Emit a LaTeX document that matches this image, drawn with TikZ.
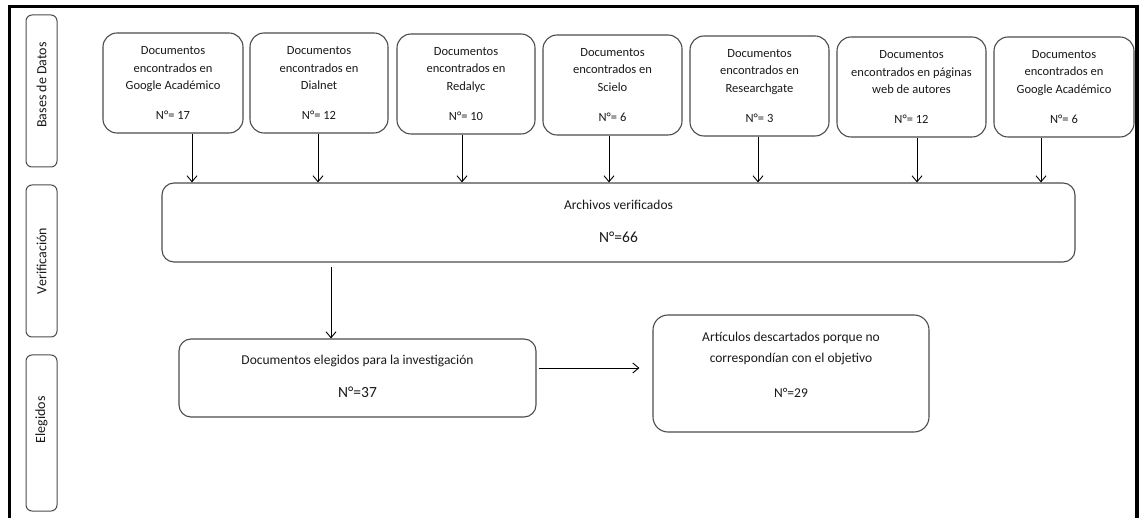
\documentclass[tikz,border=0pt]{standalone}
\usepackage{fontspec}
\setmainfont{Carlito}
\usetikzlibrary{arrows.meta,calc}
\begin{document}
\begin{tikzpicture}[x=1pt,y=-1pt,
  box/.style={draw=black!70, line width=1.1pt, rounded corners=14pt, align=center, inner sep=0pt,
              font=\fontsize{12.5}{17.5}\selectfont, text=black!90},
  bigtxt/.style={align=center, inner sep=0pt, font=\fontsize{13.5}{21}\selectfont, text=black!90},
  lane/.style={draw=black!70, line width=1pt, rounded corners=6pt, inner sep=0pt},
  lanetxt/.style={rotate=90, inner sep=0pt, font=\fontsize{14}{16}\selectfont, text=black!90},
  arr/.style={-{Straight Barb[length=6pt,width=10pt]}, line width=0.9pt},
  frame/.style={line width=3.5pt}
]
\useasboundingbox (0,0) rectangle (1141,518);
% outer frame (open at the bottom)
\coordinate (fbl) at (9.5,518);
\coordinate (ftl) at (9.5,6.5);
\coordinate (ftr) at (1137,6.5);
\coordinate (fbr) at (1137,518);
\draw[frame] (fbl) -- (ftl) -- (ftr) -- (fbr);

% lanes
\node[lane, minimum width=31pt, minimum height=152pt] (l1) at (41.5,91) {};
\node[lane, minimum width=31pt, minimum height=152pt] (l2) at (41.5,261) {};
\node[lane, minimum width=31pt, minimum height=156pt] (l3) at (41.5,433) {};
\node[lanetxt] (t1) at ([yshift=6pt]l1.center) {Bases de Datos};
\node[lanetxt] (t2) at (l2.center) {Verificación};
\node[lanetxt] (t3) at ([yshift=13pt]l3.center) {Elegidos};

% top boxes
\node[box, minimum width=140pt, minimum height=100pt] (b1) at (173,83)
  {Documentos\\encontrados en\\Google Académico\\[12.5pt]N°= 17};
\node[box, minimum width=138pt, minimum height=100pt] (b2) at (319,83)
  {Documentos\\encontrados en\\Dialnet\\[12.5pt]N°= 12};
\node[box, minimum width=138pt, minimum height=100pt] (b3) at (466,84)
  {Documentos\\encontrados en\\Redalyc\\[12.5pt]N°= 10};
\node[box, minimum width=139pt, minimum height=100pt] (b4) at (612.5,85)
  {Documentos\\encontrados en\\Scielo\\[12.5pt]N°= 6};
\node[box, minimum width=139pt, minimum height=100pt] (b5) at (759.5,86)
  {Documentos\\encontrados en\\Researchgate\\[12.5pt]N°= 3};
\node[box, minimum width=149pt, minimum height=100pt] (b6) at (911.5,87)
  {Documentos\\encontrados en páginas\\web de autores\\[12.5pt]N°= 12};
\node[box, minimum width=140pt, minimum height=100pt] (b7) at (1064,87)
  {Documentos\\encontrados en\\Google Académico\\[12.5pt]N°= 6};

% verification box
\node[box, rounded corners=12pt, minimum width=913pt, minimum height=79pt] (mid) at (618.5,222.5) {};
\node[bigtxt] (midt) at ([yshift=1pt]mid.center) {Archivos verificados\\[12pt]{\fontsize{15.5}{21}\selectfont N°=66}};

% chosen / discarded
\node[box, rounded corners=12pt, minimum width=357pt, minimum height=78pt] (bl) at (357.5,378) {};
\node[bigtxt] (blt) at ([yshift=1.5pt]bl.center) {Documentos elegidos para la investigación\\[12pt]{\fontsize{15.5}{21}\selectfont N°=37}};
\node[box, rounded corners=15pt, minimum width=276pt, minimum height=117pt] (br) at (791,373.5) {};
\node[bigtxt] (brt) at ([yshift=8.5pt]br.center) {Artículos descartados porque no\\correspondían con el objetivo\\[14pt]N°=29};

% arrows top -> mid
\draw[arr] ([xshift=19pt]b1.south) -- ([xshift=19pt]b1.south |- mid.north);
\draw[arr] ([xshift=-1pt]b2.south) -- ([xshift=-1pt]b2.south |- mid.north);
\draw[arr] ([xshift=-4pt]b3.south) -- ([xshift=-4pt]b3.south |- mid.north);
\draw[arr] ([xshift=-3.5pt]b4.south) -- ([xshift=-3.5pt]b4.south |- mid.north);
\draw[arr] ([xshift=-1.5pt]b5.south) -- ([xshift=-1.5pt]b5.south |- mid.north);
\draw[arr] ([xshift=5.5pt]b6.south) -- ([xshift=5.5pt]b6.south |- mid.north);
\draw[arr] ([xshift=-23pt]b7.south) -- ([xshift=-23pt]b7.south |- mid.north);

% mid -> chosen
\draw[arr] ([xshift=-26.5pt,yshift=-4pt]bl.north |- mid.south) -- ([xshift=-26.5pt]bl.north);
% chosen -> discarded
\draw[arr] ([shift={(2pt,10pt)}]bl.east) -- ([shift={(-13pt,10pt)}]bl.east -| br.west);
\end{tikzpicture}
\end{document}
